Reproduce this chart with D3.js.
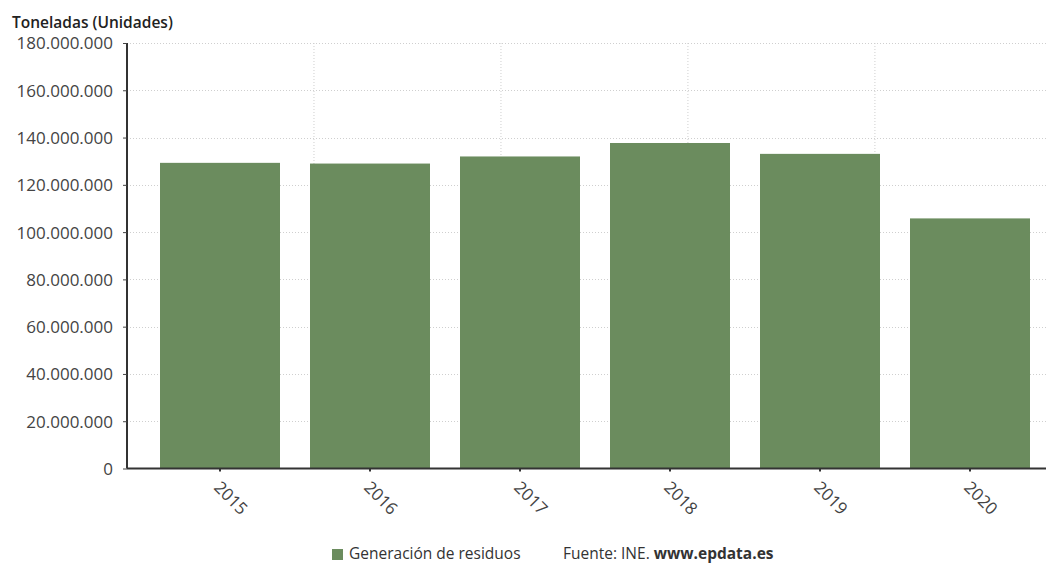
<!DOCTYPE html>
<html>
<head>
<meta charset="utf-8">
<script src="https://cdn.jsdelivr.net/npm/d3@7"></script>
<style>
  html, body { margin: 0; padding: 0; background: #fff; }
  svg { display: block; font-family: "Open Sans", "Noto Sans", sans-serif; }
</style>
</head>
<body>
<svg id="chart" width="1049" height="564"></svg>
<script>
// Generación de residuos en España (toneladas)
const years = ["2015", "2016", "2017", "2018", "2019", "2020"];
const residuos = [129300000, 129000000, 132000000, 137700000, 133100000, 105800000];
const yTicks = [0, 20000000, 40000000, 60000000, 80000000, 100000000, 120000000, 140000000, 160000000, 180000000];
const seriesName = "Generación de residuos";
const unitLabel = "Toneladas (Unidades)";

const svg = d3.select("#chart");
const font = '"Open Sans", "Noto Sans", sans-serif';
const plotLeft = 127, plotRight = 1046, plotTop = 43, plotBottom = 468.5;
const barColor = "#6b8c5e";

const x = d3.scaleBand().domain(years).range([145, 1045]).paddingInner(0.2).paddingOuter(0.1);
const y = d3.scaleLinear().domain([0, 180000000]).range([plotBottom, plotTop]);

const fmt = v => d3.format(",")(v).replace(/,/g, ".");

// vertical grid (every ~187px across the plot)
const gx = d3.scaleLinear().domain([0, 4.915]).range([plotLeft, plotRight]);
svg.append("g").selectAll("line").data([1, 2, 3, 4]).join("line")
  .attr("x1", d => gx(d)).attr("x2", d => gx(d))
  .attr("y1", plotTop).attr("y2", plotBottom)
  .attr("stroke", "#cfcfcf").attr("stroke-width", 1).attr("stroke-dasharray", "1,2");

// horizontal grid
svg.append("g").selectAll("line").data(yTicks.filter(d => d > 0)).join("line")
  .attr("x1", plotLeft).attr("x2", plotRight)
  .attr("y1", d => Math.round(y(d)) + 0.5).attr("y2", d => Math.round(y(d)) + 0.5)
  .attr("stroke", "#cfcfcf").attr("stroke-width", 1).attr("stroke-dasharray", "1,2");

// bars
svg.append("g").selectAll("rect").data(years).join("rect")
  .attr("x", d => x(d))
  .attr("width", x.bandwidth())
  .attr("y", (d, i) => y(residuos[i]))
  .attr("height", (d, i) => y(0) - y(residuos[i]))
  .attr("fill", barColor);

// y axis
const yAxis = svg.append("g").attr("transform", `translate(${plotLeft},0)`)
  .call(d3.axisLeft(y).tickValues(yTicks).tickFormat(fmt).tickSize(4).tickPadding(10))
  .attr("font-family", font);
yAxis.select(".domain").attr("stroke", "#333").attr("stroke-width", 2).attr("d", `M0,${plotTop}V${plotBottom}`);
yAxis.selectAll(".tick line").attr("stroke", "#444");
yAxis.selectAll(".tick text").attr("fill", "#444").style("font-size", "17px").attr("dy", "0.35em");

// x axis
const xAxis = svg.append("g").attr("transform", `translate(0,${plotBottom})`)
  .call(d3.axisBottom(x).tickSize(3).tickPadding(6))
  .attr("font-family", font);
xAxis.select(".domain").attr("stroke", "#333").attr("stroke-width", 2).attr("d", `M${plotLeft},0H${plotRight}`);
xAxis.selectAll(".tick line").attr("stroke", "#333").attr("stroke-width", 2);
xAxis.selectAll(".tick text")
  .attr("fill", "#444").style("font-size", "17px")
  .attr("text-anchor", "start").attr("dy", "0")
  .attr("transform", "translate(-7,20) rotate(45)")
  .attr("x", 0).attr("y", 0);

// unit label
svg.append("text").attr("x", 12).attr("y", 28)
  .attr("fill", "#222").style("font-size", "15.5px").style("font-weight", "600")
  .text(unitLabel);

// legend
const lg = svg.append("g");
lg.append("rect").attr("x", 332).attr("y", 549).attr("width", 11).attr("height", 11).attr("fill", barColor);
lg.append("text").attr("x", 349).attr("y", 559).attr("fill", "#333").style("font-size", "15.5px").text(seriesName);
const src = lg.append("text").attr("x", 563).attr("y", 559).attr("fill", "#333").style("font-size", "15.5px");
src.append("tspan").text("Fuente: INE. ");
src.append("tspan").style("font-weight", "700").text("www.epdata.es");
</script>
</body>
</html>
